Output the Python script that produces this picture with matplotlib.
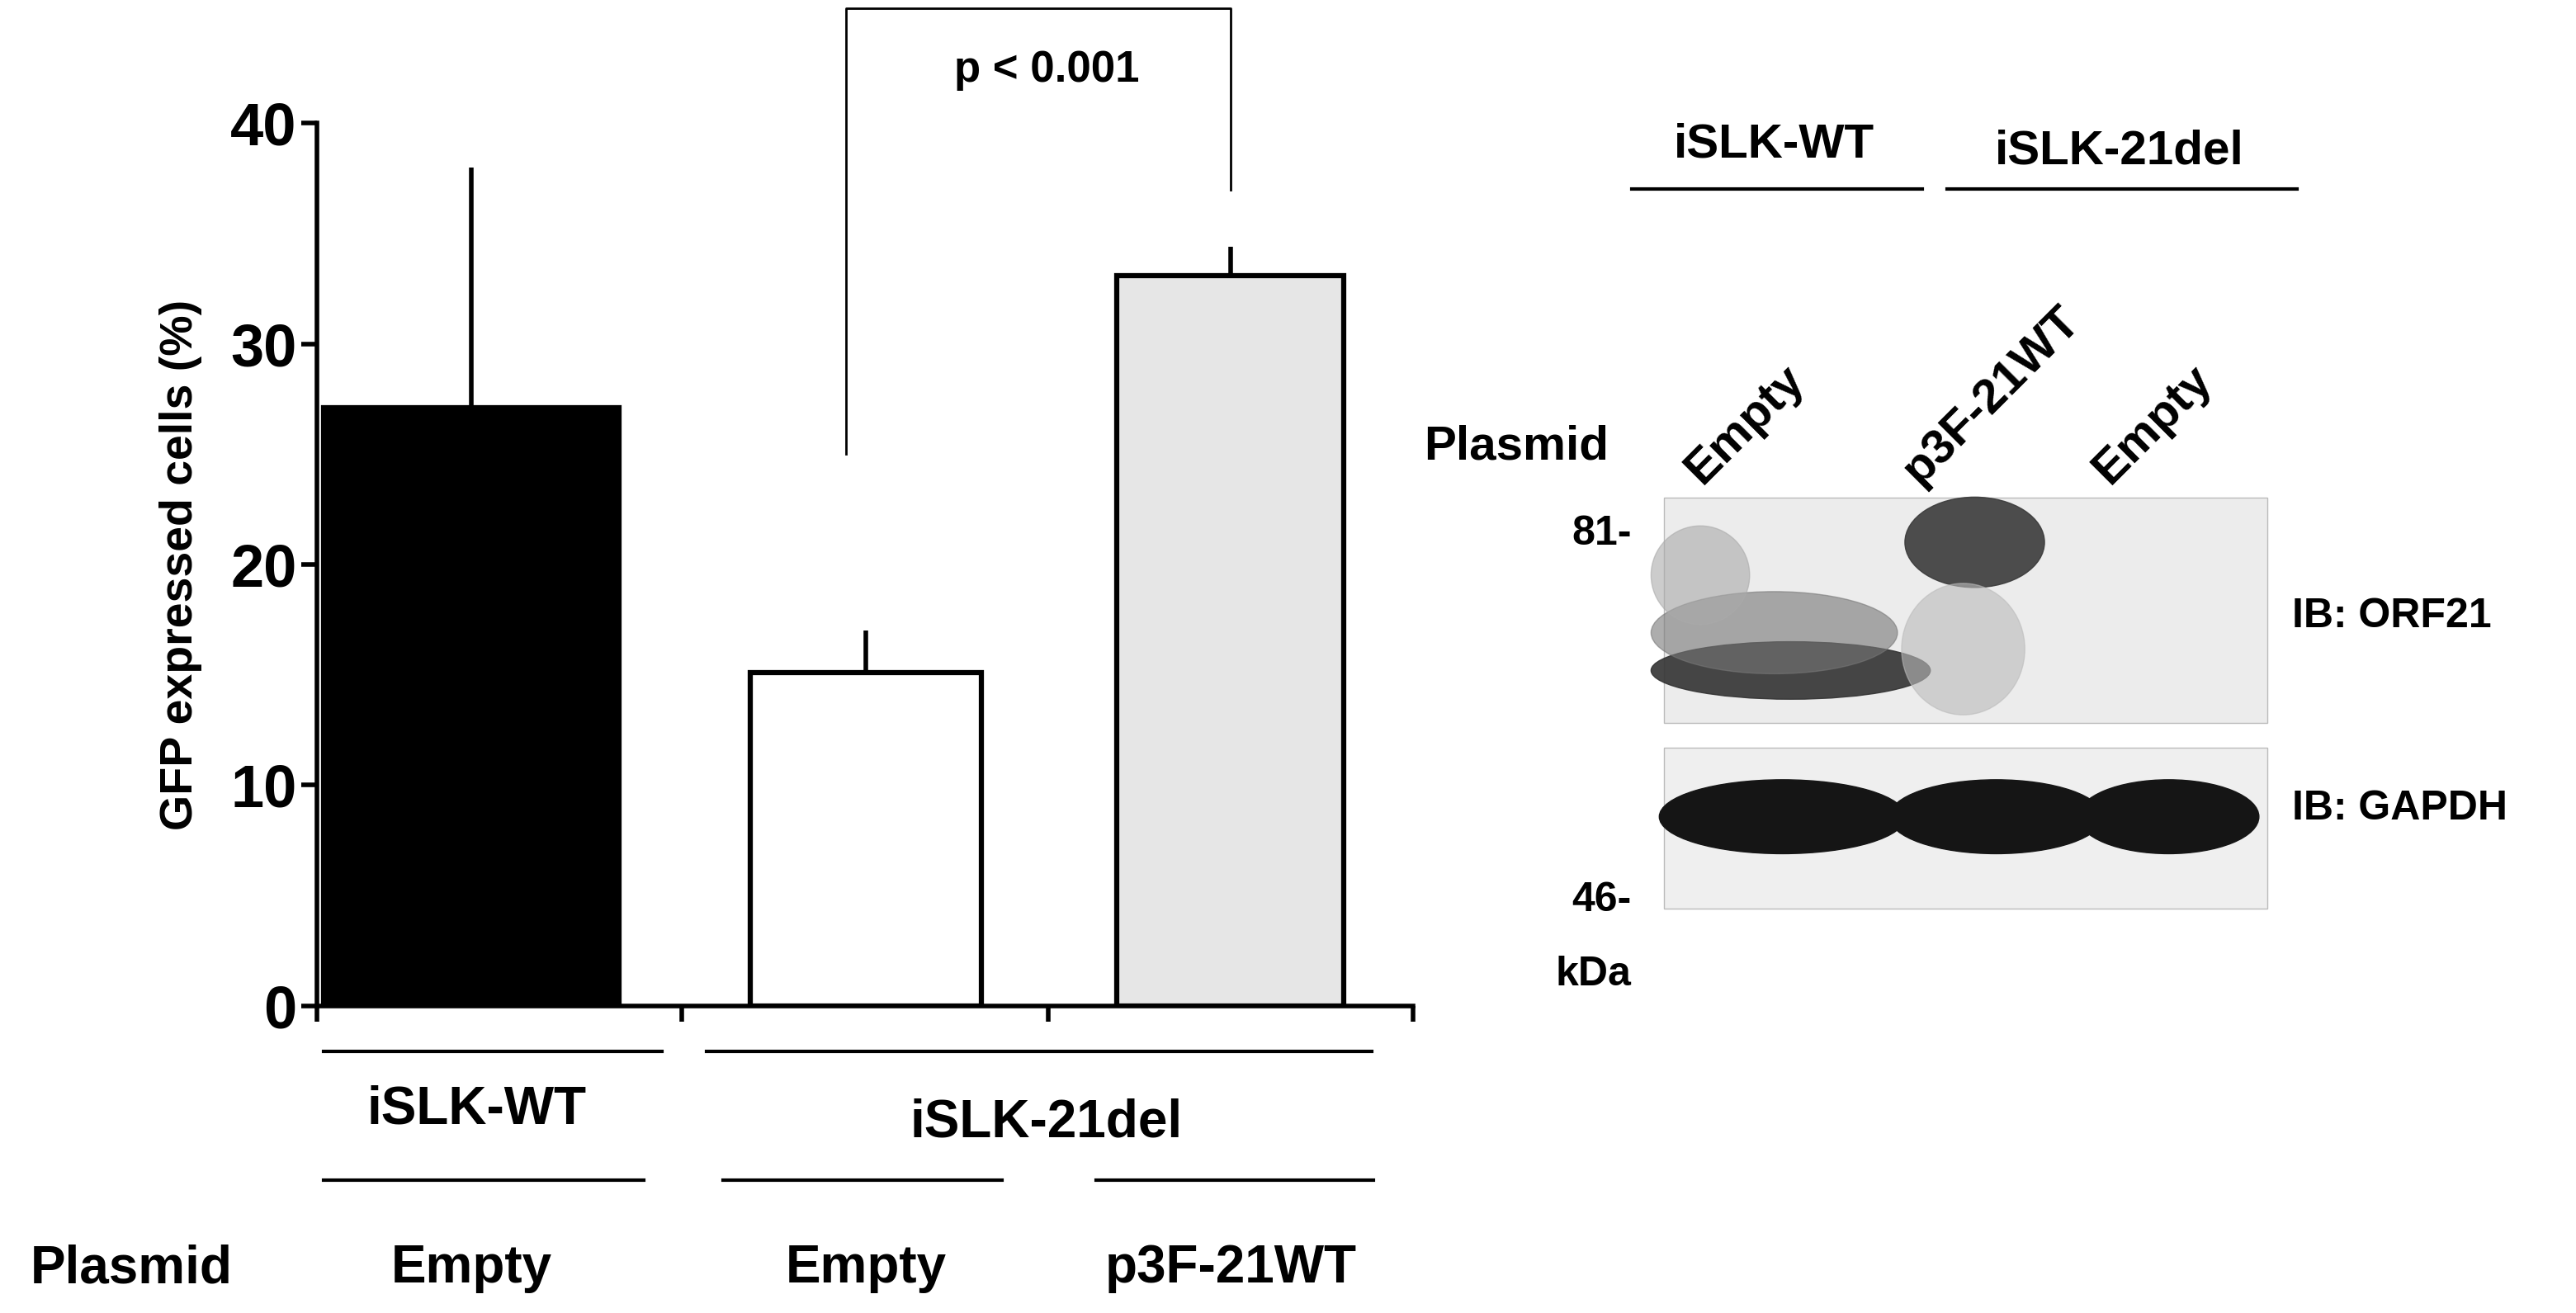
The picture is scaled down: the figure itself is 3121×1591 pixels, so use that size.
import matplotlib
matplotlib.use("Agg")
import matplotlib.pyplot as plt
from matplotlib.patches import Ellipse, Rectangle

groups = ["iSLK-WT", "iSLK-21del", "iSLK-21del"]
plasmids = ["Empty", "Empty", "p3F-21WT"]
values = [27.1, 15.1, 33.1]
errors = [10.9, 1.9, 1.3]
colors = ["black", "white", "#e6e6e6"]
yticks = [0, 10, 20, 30, 40]

W, H = 1568, 799
plt.rcParams['font.family'] = ['Liberation Sans', 'DejaVu Sans']
fig = plt.figure(figsize=(31.21, 15.91), dpi=100)
ax = fig.add_axes([193/W, (H-612)/H, (860-193)/W, (612-75)/H])
pos = [287, 527, 749]
widths = [180, 141, 138]
ax.bar(pos, values, width=widths, color=colors, edgecolor="black", linewidth=4.5, zorder=2)
ax.errorbar(pos, values, yerr=[[0]*3, errors], fmt="none", ecolor="black", elinewidth=4, capsize=0, zorder=1)
ax.set_xlim(193, 860)
ax.set_ylim(0, 40)
ax.set_yticks(yticks)
ax.set_yticklabels([str(t) for t in yticks], fontsize=52, fontweight="bold")
ax.set_xticks([193, 415, 638, 860])
ax.set_xticklabels([])
ax.tick_params(axis="both", width=4, length=14)
for s in ["top", "right"]:
    ax.spines[s].set_visible(False)
for s in ["left", "bottom"]:
    ax.spines[s].set_linewidth(4)
ax.set_ylabel("GFP expressed cells (%)", fontsize=40, fontweight="bold", labelpad=25)

ax.plot([515, 515, 749, 749], [25, 45.2, 45.2, 37.0], color="black", lw=2, clip_on=False)
ax.text(637, 42.4, "p < 0.001", ha="center", va="center", fontsize=38, fontweight="bold")

ov = fig.add_axes([0, 0, 1, 1])
ov.set_xlim(0, W); ov.set_ylim(H, 0); ov.axis("off")
ov.patch.set_alpha(0)
def line(x0, x1, y):
    ov.plot([x0, x1], [y, y], color="black", lw=3)
def txt(x, y, s, fs=46, ha="center", rot=0):
    ov.text(x, y, s, ha=ha, va="center", fontsize=fs, fontweight="bold", rotation=rot)

line(197, 403, 640); line(430, 835, 640)
txt(290, 675, groups[0]); txt(637, 683, groups[1])
line(197, 392, 718); line(440, 610, 718); line(667, 836, 718)
txt(80, 772, "Plasmid")
for p, s in zip(pos, plasmids):
    txt(p, 772, s)

txt(1080, 88, "iSLK-WT", fs=42); line(993, 1170, 115)
txt(1290, 92, "iSLK-21del", fs=42); line(1185, 1398, 115)
txt(923, 272, "Plasmid", fs=42)
for x, s in [(1040, "Empty"), (1172, "p3F-21WT"), (1288, "Empty")]:
    ov.text(x, 300, s, ha="left", va="bottom", fontsize=42, fontweight="bold",
            rotation=45, rotation_mode="anchor")
ov.add_patch(Rectangle((1013, 303), 367, 137, facecolor="#ececec", edgecolor="#bbbbbb", lw=1))
ov.add_patch(Rectangle((1013, 455), 367, 98, facecolor="#efefef", edgecolor="#bbbbbb", lw=1))
ov.add_patch(Ellipse((1090, 408), 170, 35, color="#333333", alpha=0.9))
ov.add_patch(Ellipse((1080, 385), 150, 50, color="#777777", alpha=0.6))
ov.add_patch(Ellipse((1035, 350), 60, 60, color="#aaaaaa", alpha=0.6))
ov.add_patch(Ellipse((1202, 330), 85, 55, color="#3a3a3a", alpha=0.9))
ov.add_patch(Ellipse((1195, 395), 75, 80, color="#bbbbbb", alpha=0.6))
for cx, w in [(1085, 150), (1215, 130), (1320, 110)]:
    ov.add_patch(Ellipse((cx, 497), w, 45, color="#151515"))
txt(975, 325, "81-", fs=36); txt(975, 548, "46-", fs=36); txt(970, 593, "kDa", fs=36)
txt(1395, 375, "IB: ORF21", fs=36, ha="left"); txt(1395, 492, "IB: GAPDH", fs=36, ha="left")

fig.savefig("out.png", dpi=100)
